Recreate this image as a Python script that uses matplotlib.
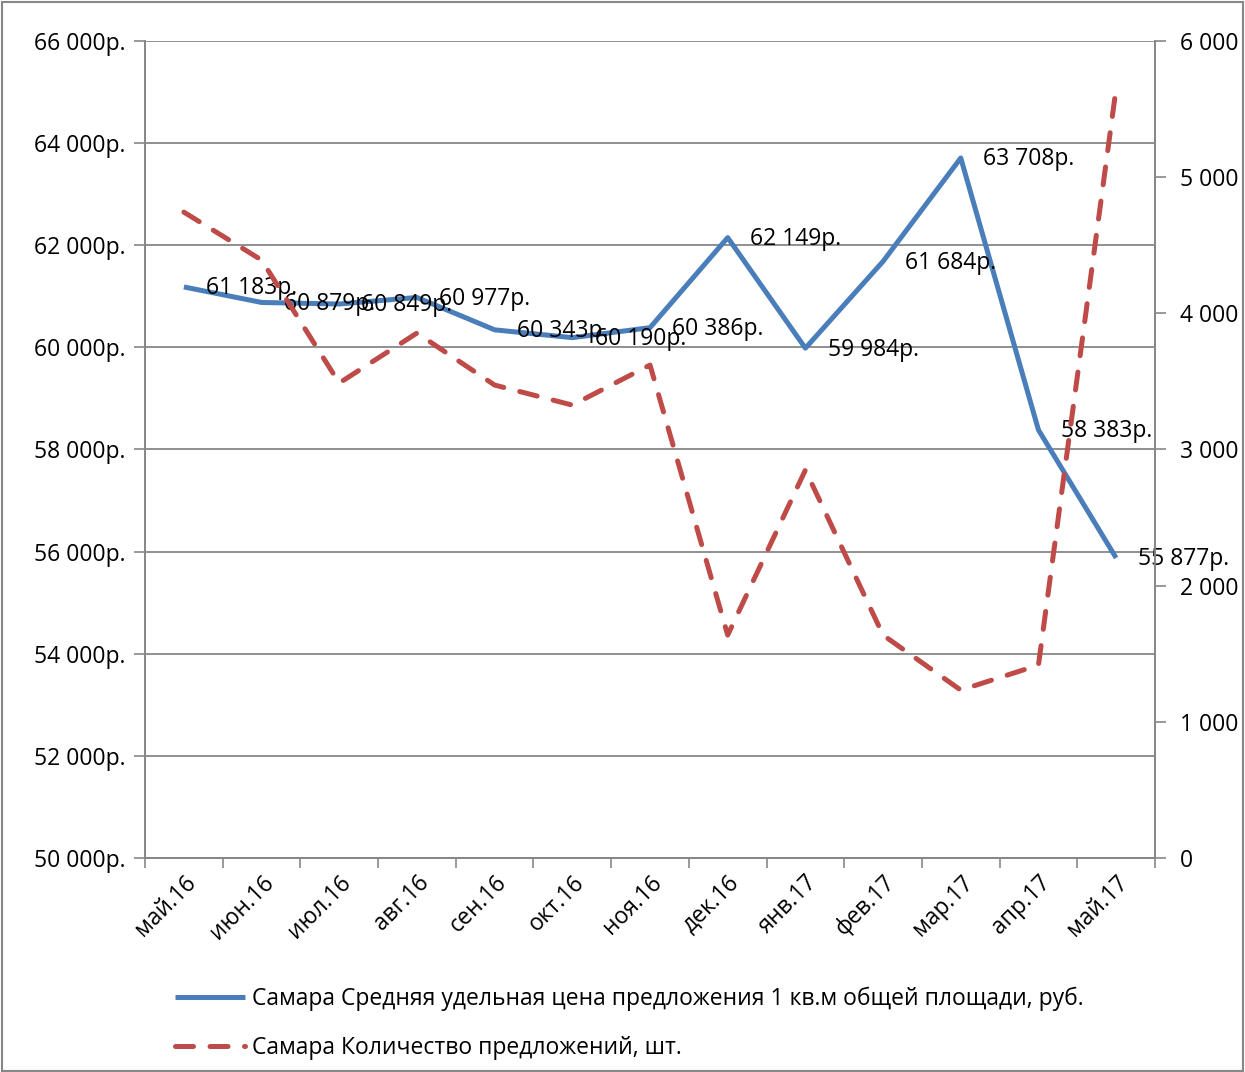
import matplotlib
matplotlib.use("Agg")
import matplotlib.pyplot as plt
from matplotlib.patches import Rectangle
from matplotlib.ticker import FuncFormatter, FixedLocator

months = ["май.16", "июн.16", "июл.16", "авг.16", "сен.16", "окт.16", "ноя.16",
          "дек.16", "янв.17", "фев.17", "мар.17", "апр.17", "май.17"]
price = [61183, 60879, 60849, 60977, 60343, 60190, 60386,
         62149, 59984, 61684, 63708, 58383, 55877]
count = [4743, 4391, 3488, 3855, 3473, 3326, 3620,
         1637, 2849, 1637, 1233, 1417, 5653]
price_label = "Самара Средняя удельная цена предложения 1 кв.м общей площади, руб."
count_label = "Самара Количество предложений, шт."

plt.rcParams['font.family'] = ['Open Sans', 'DejaVu Sans']
BLUE = "#4A7EBB"
RED = "#BE4B48"
GRID = "#878787"
FS = 16.5

fig = plt.figure(figsize=(12.45, 10.72), dpi=100)
ax = fig.add_axes([0.1165, 0.1996, 0.8112, 0.7622])
ax2 = ax.twinx()

x = list(range(len(months)))
l1, = ax.plot(x, price, color=BLUE, lw=3.6, solid_capstyle='butt', zorder=3)
l2, = ax2.plot(x, count, color=RED, lw=3.6, dash_capstyle='round',
               dashes=(3.6, 3.3), zorder=2)

def rub(v, pos=None):
    return f"{int(v):,}".replace(",", " ") + "р."

for xi, v in zip(x, price):
    ax.annotate(rub(v), (xi, v), xytext=(16, -1), textcoords='offset points',
                ha='left', va='center', fontsize=FS, color='black', zorder=5)

ax.set_xlim(-0.5, len(months) - 0.5)
ax.set_ylim(50000, 66000)
ax.set_yticks(range(50000, 66001, 2000))
ax.yaxis.set_major_formatter(FuncFormatter(rub))
ax2.set_ylim(0, 6000)
ax2.set_yticks(range(0, 6001, 1000))
ax2.yaxis.set_major_formatter(FuncFormatter(lambda v, p: f"{int(v):,}".replace(",", " ")))

ax.xaxis.set_major_locator(FixedLocator([i - 0.5 for i in range(len(months) + 1)]))
ax.xaxis.set_major_formatter(FuncFormatter(lambda v, p: ""))
ax.set_xticks(x, minor=True)
ax.set_xticklabels(months, minor=True, rotation=45, ha='right', va='top',
                   rotation_mode='anchor', fontsize=FS)
ax.tick_params(axis='x', which='minor', length=0, pad=9)
ax.tick_params(axis='x', which='major', length=7, direction='out', color=GRID, width=1.2)

ax.grid(axis='y', color=GRID, lw=1.3)
ax.set_axisbelow(True)
ax.tick_params(axis='y', length=8, direction='out', color=GRID, width=1.2,
               labelsize=FS, pad=6)
ax2.tick_params(axis='y', length=8, direction='out', color=GRID, width=1.2,
                labelsize=FS, pad=10)

for a in (ax, ax2):
    for s in a.spines.values():
        s.set_color(GRID)
        s.set_linewidth(1.3)
    a.spines['top'].set_visible(False)

fig.legend([l1, l2], [price_label, count_label], loc='upper left',
           bbox_to_anchor=(0.133, 0.088), frameon=False, fontsize=FS,
           handlelength=3.05, handletextpad=0.3, labelspacing=1.1,
           borderaxespad=0)

fig.patches.append(Rectangle((0.0015, 0.001), 0.997, 0.997, transform=fig.transFigure,
                             fill=False, edgecolor=GRID, lw=1.5))

fig.savefig("out.png", dpi=100)
